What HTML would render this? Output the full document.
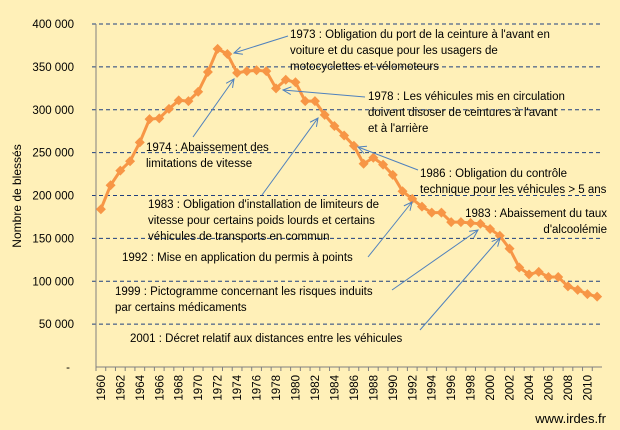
<!DOCTYPE html>
<html><head><meta charset="utf-8"><style>
body{margin:0;background:#FFF0B8;}
svg{display:block;font-family:"Liberation Sans",sans-serif;}
</style></head><body>
<svg id="c" width="620" height="430" viewBox="0 0 620 430">
<rect width="620" height="430" fill="#FFF0B8"/>
<g id="grid"></g><g id="axes"></g><g id="series"></g>
<g id="ann" font-size="11.5" fill="#000"></g>
<text x="21" y="196" transform="rotate(-90 21 196)" text-anchor="middle" font-size="12">Nombre de blessés</text>
<text x="606" y="423" text-anchor="end" font-size="13">www.irdes.fr</text>
</svg>
<script>
const years=[1960,1961,1962,1963,1964,1965,1966,1967,1968,1969,1970,1971,1972,1973,1974,1975,1976,1977,1978,1979,1980,1981,1982,1983,1984,1985,1986,1987,1988,1989,1990,1991,1992,1993,1994,1995,1996,1997,1998,1999,2000,2001,2002,2003,2004,2005,2006,2007,2008,2009,2010,2011];
const injured=[184000,212000,229000,240000,262000,289000,290000,301000,311000,310000,321000,344000,371000,365000,343000,345000,346000,345000,325000,335000,332000,310000,310000,294000,281000,270000,258000,237000,244000,236000,224000,205000,196000,187000,180000,180000,169000,169000,168000,167000,161000,153000,138000,116000,108000,111000,105000,105000,94000,90000,85000,82000];
const yTicks=[0,50000,100000,150000,200000,250000,300000,350000,400000];
const yTickLabels=["-","50 000","100 000","150 000","200 000","250 000","300 000","350 000","400 000"];
const NS="http://www.w3.org/2000/svg";
const x0=96,x1=602,y0=367,y1=24;
const bw=(x1-x0)/years.length;
const X=i=>x0+bw*(i+0.5);
const Y=v=>y0-(v/400000)*(y0-y1);
function mk(t,a,p){const e=document.createElementNS(NS,t);for(const k in a)e.setAttribute(k,a[k]);p.appendChild(e);return e;}
const grid=document.getElementById('grid'),axes=document.getElementById('axes'),ser=document.getElementById('series');
yTicks.forEach((v,i)=>{
 if(v>0){const l=mk('line',{x1:92,x2:x1,y1:Y(v),y2:Y(v),stroke:'#1F3F7F','stroke-width':1,'stroke-dasharray':'4,3'},grid);
 
 }
 const t=mk('text',{x:i==0?70:74,y:Y(v)+4,'text-anchor':'end','font-size':11.5},axes);t.textContent=yTickLabels[i];
 
 
});
let a=mk('line',{x1:x0,x2:x0,y1:y1,y2:y0,stroke:'#808080'},axes);


a=mk('line',{x1:x0,x2:x1,y1:y0,y2:y0,stroke:'#808080'},axes);


years.forEach((yr,i)=>{
 mk('line',{x1:x0+bw*i,x2:x0+bw*i,y1:y0,y2:y0+4,stroke:'#808080'},axes);
 if(i%2==0){const t=mk('text',{x:X(i)+4,y:y0+8,'text-anchor':'end','font-size':11.5,transform:`rotate(-90 ${X(i)+4} ${y0+8})`},axes);t.textContent=yr;
 
 }
});
const pl=mk('polyline',{points:injured.map((v,i)=>X(i)+','+Y(v)).join(' '),fill:'none',stroke:'#F79646','stroke-width':3},ser);


injured.forEach((v,i)=>{const cx=X(i),cy=Y(v);
 const d=mk('polygon',{points:`${cx},${cy-5} ${cx+5},${cy} ${cx},${cy+5} ${cx-5},${cy}`,fill:'#F79646'},ser);
 
 });
const ann=document.getElementById('ann');
const notes=[
 [290,38,'start',["1973 : Obligation du port de la ceinture à l'avant en","voiture et du casque pour les usagers de","motocyclettes et vélomoteurs"],[288,36,234,53]],
 [146,151,'start',["1974 : Abaissement des","limitations de vitesse"],[193,137,234,79]],
 [368,100,'start',["1978 : Les véhicules mis en circulation","doivent disoser de ceintures à l'avant","et à l'arrière"],[365,97,283,90]],
 [148,208,'start',["1983 : Obligation d'installation  de limiteurs de","vitesse pour certains poids lourds et certains","véhicules de transports en commun"],[262,195,318,118]],
 [420,177,'start',["1986 : Obligation du contrôle","technique pour les véhicules > 5 ans"],[418,170,358,147]],
 [607,217,'end',["1983 : Abaissement du taux","d'alcoolémie"],null],
 [122,261,'start',["1992 : Mise en application du permis à points"],[368,257,412,202]],
 [115,295,'start',["1999 : Pictogramme concernant les risques induits","par certains médicaments"],[392,290,478,230]],
 [130,342,'start',["2001 : Décret relatif aux distances entre les véhicules"],[420,330,500,238]]
];
notes.forEach((n,k)=>{
 n[3].forEach((s,j)=>{const t=mk('text',{x:n[0],y:n[1]+j*16,'text-anchor':n[2]},ann);t.textContent=s;
 
 });
 if(n[4]){const [ax,ay,bx,by]=n[4];
  const l=mk('line',{x1:ax,y1:ay,x2:bx,y2:by,stroke:'#4F81BD','stroke-width':1},ann);
  
  
  const ang=Math.atan2(by-ay,bx-ax),L=9;
  const p1=[bx-L*Math.cos(ang-0.45),by-L*Math.sin(ang-0.45)],p2=[bx-L*Math.cos(ang+0.45),by-L*Math.sin(ang+0.45)];
  mk('polyline',{points:`${p1} ${bx},${by} ${p2}`,fill:'none',stroke:'#4F81BD','stroke-width':1},ann);}
});
</script>
</body></html>
